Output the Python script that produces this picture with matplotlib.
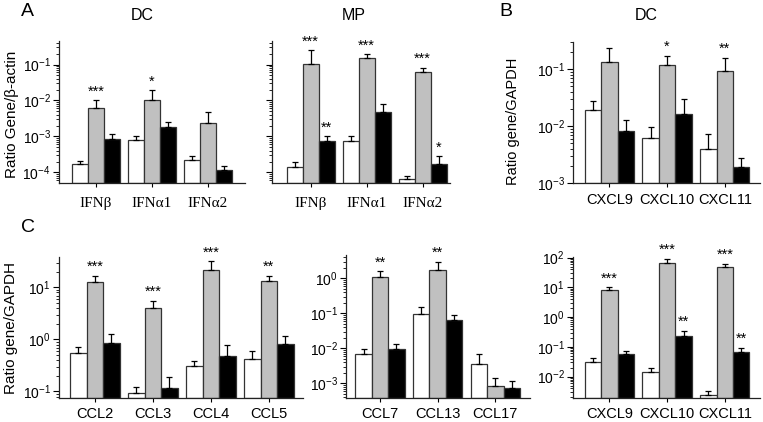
import numpy as np
import matplotlib
matplotlib.use("Agg")
import matplotlib.pyplot as plt
from matplotlib.ticker import LogLocator, NullFormatter

# ---------------------------
# Data (bar value / top of error bar), series order: open, grey, black
# ---------------------------
ifn_genes = ["IFNβ", "IFNα1", "IFNα2"]

ifn_dc_vals = [[1.67e-4, 7.8e-4, 2.2e-4],
               [6.2e-3, 1.04e-2, 2.4e-3],
               [8.3e-4, 1.87e-3, 1.19e-4]]
ifn_dc_tops = [[2.1e-4, 1.05e-3, 2.96e-4],
               [1.0e-2, 1.9e-2, 4.9e-3],
               [1.16e-3, 2.5e-3, 1.47e-4]]
ifn_dc_stars = [(0, 1, "***"), (1, 1, "*")]

ifn_mp_vals = [[1.38e-4, 7.3e-4, 6.8e-5],
               [0.102, 0.147, 0.063],
               [7.7e-4, 4.8e-3, 1.7e-4]]
ifn_mp_tops = [[1.9e-4, 1.04e-3, 8.1e-5],
               [0.25, 0.19, 0.081],
               [1.0e-3, 8.1e-3, 2.8e-4]]
ifn_mp_stars = [(0, 1, "***"), (0, 2, "**"), (1, 1, "***"), (2, 1, "***"), (2, 2, "*")]

cxcl_genes = ["CXCL9", "CXCL10", "CXCL11"]

cxcl_dc_vals = [[0.019, 6.3e-3, 3.9e-3],
                [0.135, 0.116, 0.092],
                [8.3e-3, 0.016, 1.9e-3]]
cxcl_dc_tops = [[0.028, 9.7e-3, 7.4e-3],
                [0.24, 0.17, 0.16],
                [0.0128, 0.0296, 2.7e-3]]
cxcl_dc_stars = [(1, 1, "*"), (2, 1, "**")]

ccl_a_genes = ["CCL2", "CCL3", "CCL4", "CCL5"]
ccl_a_vals = [[0.54, 0.095, 0.31, 0.43],
              [12.9, 3.96, 21.8, 13.3],
              [0.86, 0.119, 0.49, 0.81]]
ccl_a_tops = [[0.72, 0.122, 0.39, 0.60],
              [16.6, 5.6, 31.6, 16.9],
              [1.25, 0.19, 0.79, 1.17]]
ccl_a_stars = [(0, 1, "***"), (1, 1, "***"), (2, 1, "***"), (3, 1, "**")]

ccl_b_genes = ["CCL7", "CCL13", "CCL17"]
ccl_b_vals = [[6.9e-3, 0.096, 3.6e-3],
              [1.12, 1.73, 8.5e-4],
              [9.4e-3, 0.064, 7.5e-4]]
ccl_b_tops = [[9.8e-3, 0.147, 6.9e-3],
              [1.58, 2.9, 1.45e-3],
              [0.0133, 0.089, 1.17e-3]]
ccl_b_stars = [(0, 1, "**"), (1, 1, "**")]

cxcl_c_vals = [[0.032, 0.014, 2.5e-3],
               [8.1, 68, 49],
               [0.056, 0.24, 0.066]]
cxcl_c_tops = [[0.043, 0.02, 3.4e-3],
               [10, 93, 63],
               [0.071, 0.355, 0.095]]
cxcl_c_stars = [(0, 1, "***"), (1, 1, "***"), (1, 2, "**"), (2, 1, "***"), (2, 2, "**")]

# ---------------------------
# Style
# ---------------------------
plt.rcParams["font.family"] = ["Liberation Sans", "DejaVu Sans"]
plt.rcParams["mathtext.default"] = "regular"

FILLS = ["white", "#c0c0c0", "black"]
EDGE = "#333333"
BAR_W = 0.285
W, H = 763, 422

fig = plt.figure(figsize=(W / 100, H / 100), dpi=100)


def px_axes(l, t, r, b):
    return fig.add_axes([l / W, 1 - b / H, (r - l) / W, (b - t) / H])


def px_text(x, y, s, **kw):
    fig.text(x / W, 1 - y / H, s, ha="center", va="center", **kw)


def draw_panel(ax, genes, vals, tops, stars, ylim, xlim,
               ylabels=True, serif=False, xpad=3):
    x = np.arange(len(genes))
    for k, color in enumerate(FILLS):
        xs = x + (k - 1) * BAR_W
        v = np.array(vals[k])
        t = np.array(tops[k])
        ax.bar(xs, v - ylim[0], bottom=ylim[0], width=BAR_W, color=color,
               edgecolor=EDGE, linewidth=0.9, zorder=2)
        ax.errorbar(xs, v, yerr=[np.zeros_like(v), t - v], fmt="none",
                    ecolor="black", elinewidth=0.9, capsize=2.2,
                    capthick=0.9, zorder=3)
    for g, s, txt in stars:
        ax.annotate(txt, xy=(x[g] + (s - 1) * BAR_W, tops[s][g]),
                    xytext=(0, 3.5), textcoords="offset points",
                    ha="center", va="baseline", fontsize=10.5)

    ax.set_yscale("log")
    ax.set_ylim(ylim)
    ax.set_xlim(xlim)
    ax.yaxis.set_major_locator(LogLocator(base=10, numticks=15))
    ax.yaxis.set_minor_locator(LogLocator(base=10, subs=np.arange(2, 10), numticks=15))
    ax.yaxis.set_minor_formatter(NullFormatter())
    if not ylabels:
        ax.yaxis.set_major_formatter(NullFormatter())
    ax.set_xticks(x)
    ax.set_xticklabels(genes)

    for side in ["top", "right"]:
        ax.spines[side].set_visible(False)
    for side in ["left", "bottom"]:
        ax.spines[side].set_color("#222222")
        ax.spines[side].set_linewidth(0.9)
    ax.tick_params(axis="y", which="major", length=4, width=0.8, labelsize=10, pad=2)
    ax.tick_params(axis="y", which="minor", length=2, width=0.6)
    ax.tick_params(axis="x", length=3, width=0.8, labelsize=10.5, pad=xpad)
    if serif:
        for lbl in ax.get_xticklabels():
            lbl.set_fontfamily(["Liberation Serif", "DejaVu Serif"])
            lbl.set_fontsize(11)


# ---------------------------
# Panel A
# ---------------------------
ax = px_axes(59, 41, 245, 183)
draw_panel(ax, ifn_genes, ifn_dc_vals, ifn_dc_tops, ifn_dc_stars,
           (5.1e-5, 0.45), (-0.66, 2.66), serif=True, xpad=7)

ax = px_axes(272, 41, 450, 183)
draw_panel(ax, ifn_genes, ifn_mp_vals, ifn_mp_tops, ifn_mp_stars,
           (5.1e-5, 0.45), (-0.69, 2.49), ylabels=False, serif=True, xpad=7)

# ---------------------------
# Panel B
# ---------------------------
ax = px_axes(573, 42, 760, 183)
draw_panel(ax, cxcl_genes, cxcl_dc_vals, cxcl_dc_tops, cxcl_dc_stars,
           (1e-3, 0.30), (-0.63, 2.61), xpad=4)

# ---------------------------
# Panel C
# ---------------------------
ax = px_axes(59, 257, 303, 397.5)
draw_panel(ax, ccl_a_genes, ccl_a_vals, ccl_a_tops, ccl_a_stars,
           (0.0766, 38.5), (-0.62, 3.59), xpad=4)

ax = px_axes(346, 255, 530, 397.7)
draw_panel(ax, ccl_b_genes, ccl_b_vals, ccl_b_tops, ccl_b_stars,
           (3.9e-4, 4.6), (-0.59, 2.6), xpad=4)

ax = px_axes(573, 257, 760, 397.7)
draw_panel(ax, cxcl_genes, cxcl_c_vals, cxcl_c_tops, cxcl_c_stars,
           (1.96e-3, 105), (-0.63, 2.61), xpad=4)

# ---------------------------
# Labels
# ---------------------------
px_text(27.5, 11, "A", fontsize=14)
px_text(506, 12, "B", fontsize=14)
px_text(28, 228, "C", fontsize=14)

px_text(142.5, 15, "DC", fontsize=11.5)
px_text(353.5, 15, "MP", fontsize=11.5)
px_text(646.5, 15, "DC", fontsize=11.5)

px_text(12, 114.7, "Ratio Gene/β-actin", fontsize=11, rotation=90)
px_text(513, 121.7, "Ratio gene/GAPDH", fontsize=10.5, rotation=90)
px_text(11, 327.5, "Ratio gene/GAPDH", fontsize=11, rotation=90)

fig.savefig("out.png", dpi=100)
